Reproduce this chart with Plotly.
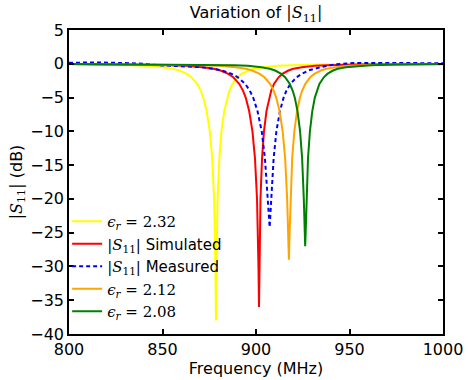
import plotly.graph_objects as go

# ---- data (frequency in MHz, |S11| in dB) ----
yellow_f = [800, 813.6, 832.6, 841.3, 850.0, 855.6, 859.0, 863.0, 865.5, 868.6, 870.5, 871.8, 873.6,
            875.3, 876.6, 877.6, 878.04, 878.31, 878.47, 878.6, 878.71, 878.86, 879.09, 879.48, 880.4,
            881.53, 883.0, 884.58, 885.73, 887.4, 890.1, 892.3, 895.8, 898.8, 903.8, 911.4, 919.1,
            935.8, 960, 1000]
yellow_db = [-0.06, -0.1, -0.2, -0.3, -0.5, -0.75, -1, -1.5, -2, -3, -4, -5, -7,
             -10, -14, -20, -25, -30, -35, -38, -35, -30, -25, -20, -14,
             -10, -7, -5, -4, -3, -2, -1.5, -1, -0.75, -0.5, -0.3, -0.2,
             -0.1, -0.05, -0.03]

red_f = [800, 833.3, 853.3, 862.4, 871.6, 877.4, 881.0, 885.2, 887.85, 891.1, 893.1, 894.5, 896.35,
         898.1, 899.46, 900.55, 901.02, 901.32, 901.6, 901.82, 902.05, 902.4, 903.23, 904.26, 905.6,
         907.04, 908.1, 909.6, 912.08, 914.08, 917.28, 920.0, 924.5, 931.4, 938.4, 953.6, 980, 1000]
red_db = [-0.05, -0.1, -0.2, -0.3, -0.5, -0.75, -1, -1.5, -2, -3, -4, -5, -7,
          -10, -14, -20, -25, -30, -36, -30, -25, -20, -14, -10, -7,
          -5, -4, -3, -2, -1.5, -1, -0.75, -0.5, -0.3, -0.2, -0.1, -0.05, -0.04]

meas_f = [800, 815, 830, 840, 847.5, 858.8, 870.1, 877.4, 881.8, 887.0, 890.3, 894.3, 896.7, 898.5,
          900.8, 903.05, 904.78, 906.27, 907.3, 908.17, 909.43, 910.9, 912.8, 914.78, 916.24, 918.3,
          921.71, 924.46, 928.0, 931.0, 934.5, 938.0, 942.0, 946.0, 952.0, 970.0, 1000]
meas_db = [0.15, 0.2, 0.1, 0.0, -0.2, -0.3, -0.5, -0.75, -1, -1.5, -2, -3, -4, -5,
           -7, -10, -14, -20, -24.2, -20, -14, -10, -7, -5, -4, -3,
           -2, -1.5, -1, -0.75, -0.5, -0.3, -0.1, 0.0, 0.1, 0.12, 0.08]

orange_f = [800, 852.6, 871.6, 880.3, 889.0, 894.6, 898.0, 902.0, 904.5, 907.6, 909.5, 910.8, 912.6,
            914.27, 915.59, 916.66, 917.16, 917.6, 917.98, 918.42, 919.35, 920.5, 921.95, 923.52,
            924.67, 926.3, 929.0, 931.2, 934.65, 937.6, 942.5, 950.05, 957.6, 974.15, 1000]
orange_db = [-0.04, -0.1, -0.2, -0.3, -0.5, -0.75, -1, -1.5, -2, -3, -4, -5, -7,
             -10, -14, -20, -25, -29, -25, -20, -14, -10, -7, -5,
             -4, -3, -2, -1.5, -1, -0.75, -0.5, -0.3, -0.2, -0.1, -0.06]

green_f = [800, 873.0, 888.6, 895.7, 902.85, 907.4, 910.2, 913.5, 915.56, 918.1, 919.63, 920.72, 922.2,
           923.57, 924.67, 925.56, 926.02, 926.3, 926.56, 926.98, 927.81, 928.83, 930.1, 931.47,
           932.5, 933.9, 936.26, 938.16, 941.2, 943.78, 948.04, 954.65, 961.26, 975.7, 1000]
green_db = [-0.03, -0.1, -0.2, -0.3, -0.5, -0.75, -1, -1.5, -2, -3, -4, -5, -7,
            -10, -14, -20, -25, -27, -25, -20, -14, -10, -7, -5,
            -4, -3, -2, -1.5, -1, -0.75, -0.5, -0.3, -0.2, -0.1, -0.05]

x_ticks = [800, 850, 900, 950, 1000]
y_ticks = [5, 0, -5, -10, -15, -20, -25, -30, -35, -40]

SERIF = "DejaVu Serif"
SANS = "DejaVu Sans"

def math_s11():
    return f"<span style='font-family:{SERIF}'>|<i>S</i><sub>11</sub>|</span>"

def eps_label(v):
    return f"<span style='font-family:{SERIF}'><i>ϵ</i><sub><i>r</i></sub> = {v}</span>"

series = [
    (yellow_f, yellow_db, eps_label("2.32"), "#ffff00", "solid"),
    (red_f, red_db, math_s11() + " Simulated", "#ff0000", "solid"),
    (meas_f, meas_db, math_s11() + " Measured", "#0000ff", "4px,3px"),
    (orange_f, orange_db, eps_label("2.12"), "#ffa500", "solid"),
    (green_f, green_db, eps_label("2.08"), "#008000", "solid"),
]

fig = go.Figure()
for i, (f, db, name, col, dash) in enumerate(series):
    fig.add_trace(go.Scatter(x=f, y=db, mode="lines", name=name, legendgroup=f"g{i}",
                             line=dict(color=col, width=2, dash=dash)))

axis_common = dict(showline=True, linecolor="black", linewidth=1.5, mirror="ticks",
                   ticks="inside", ticklen=5, tickwidth=1.5, tickcolor="black",
                   showgrid=False, zeroline=False, automargin=False,
                   tickfont=dict(family=SANS, size=16, color="black"))

fig.update_xaxes(range=[800, 1000], tickvals=x_ticks, ticktext=[str(v) for v in x_ticks],
                 title=dict(text="Frequency (MHz)", font=dict(family=SANS, size=16, color="black"), standoff=4),
                 **axis_common)
fig.update_yaxes(range=[-40, 5], tickvals=y_ticks,
                 ticktext=[str(v).replace("-", "−") for v in y_ticks],
                 title=dict(text=math_s11() + " (dB)", font=dict(family=SANS, size=16, color="black"), standoff=4),
                 **axis_common)

fig.update_layout(
    width=468, height=380,
    margin=dict(l=69, r=25, t=30, b=46),
    plot_bgcolor="white", paper_bgcolor="white",
    title=dict(text="Variation of " + math_s11(), x=0.5, xref="paper", xanchor="center",
               y=1, yref="container", yanchor="top", pad=dict(t=7),
               font=dict(family=SANS, size=16, color="black")),
    legend=dict(x=-0.005, xanchor="left", y=0.02, yanchor="bottom",
                bgcolor="rgba(0,0,0,0)", borderwidth=0, tracegroupgap=0,
                font=dict(family=SANS, size=15, color="black")),
)

fig.write_html("out.html", config={"displayModeBar": False},
               post_script="document.body.style.margin='0px';")
